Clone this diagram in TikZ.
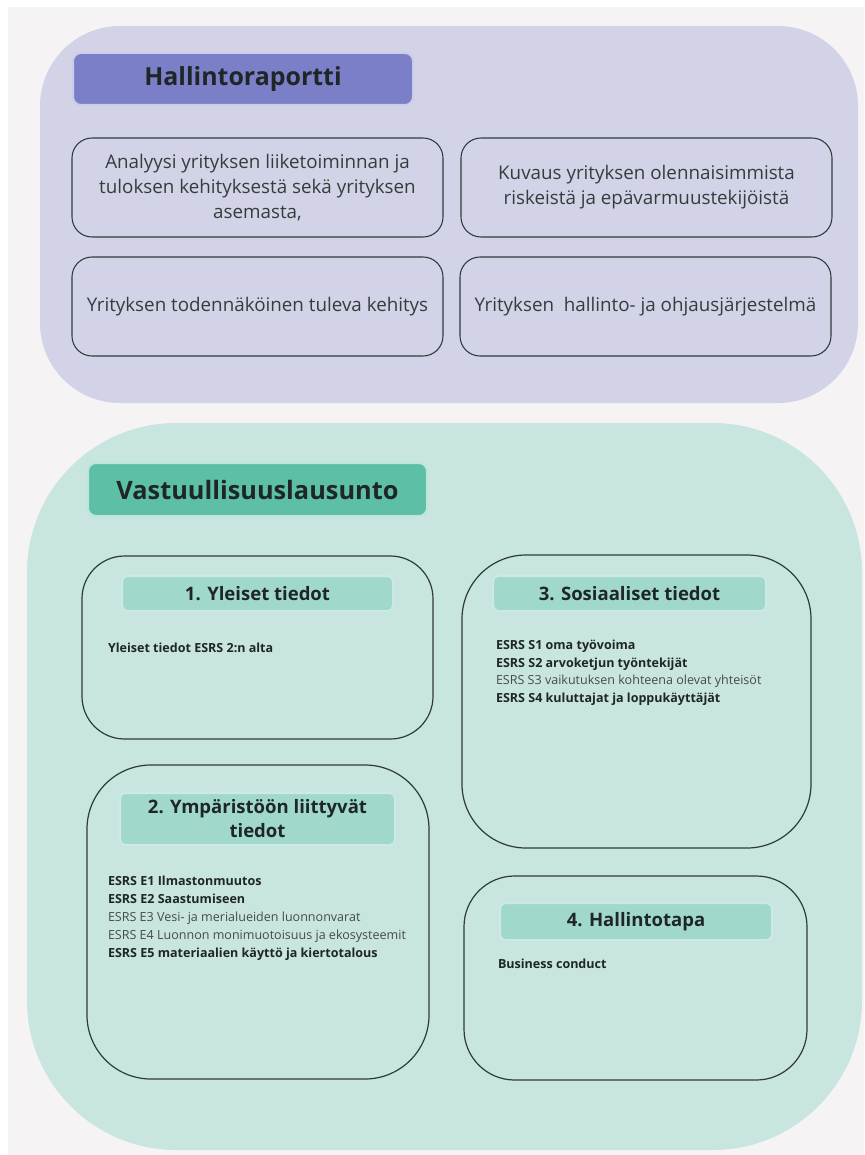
\documentclass[tikz,border=0pt]{standalone}
\usepackage{fontspec}
\setmainfont{Open Sans}
\definecolor{pagebg}{HTML}{F5F3F4}
\definecolor{purpleouter}{HTML}{D3D3E8}
\definecolor{purplehead}{HTML}{7B7FC8}
\definecolor{greenouter}{HTML}{C8E5E0}
\definecolor{greenhead}{HTML}{5CBFA6}
\definecolor{greensub}{HTML}{A1D8CC}
\definecolor{ink}{HTML}{1E2626}
\definecolor{inkgray}{HTML}{454B4B}
\definecolor{boxline}{HTML}{2F3A39}
\begin{document}
\begin{tikzpicture}[x=0.75pt,y=-0.75pt,
  every node/.style={inner sep=0pt, outer sep=0pt},
  outerbox/.style={anchor=north west, draw=none},
  headbox/.style={anchor=north west, rounded corners=6pt, draw=white!60!#1, line width=1.5pt, fill=#1, text=ink, font=\bfseries\fontsize{18.7}{22}\selectfont},
  upbox/.style={anchor=north west, rounded corners=15pt, draw=boxline, line width=0.8pt, align=center, text=ink!90,
     minimum width=278.25pt, minimum height=74.25pt, font=\fontsize{14.1}{18.75}\selectfont},
  lowbox/.style={anchor=north west, draw=boxline, line width=0.9pt},
  subhead/.style={anchor=north west, rounded corners=4pt, fill=greensub, draw=white!45!greensub, line width=1.5pt,
     text=ink, align=center, font=\bfseries\fontsize{13.9}{18}\selectfont},
  bodyb/.style={anchor=base west, text=ink, font=\bfseries\fontsize{9.4}{13.5}\selectfont},
  bodyr/.style={anchor=base west, text=inkgray, font=\fontsize{9.4}{13.5}\selectfont}
]
\useasboundingbox (0,0) rectangle (864,1155);
\fill[white] (0,0) rectangle (864,1155);
\fill[pagebg] (8,7) rectangle (864,1155);

% ---------- Hallintoraportti ----------
\node[outerbox, fill=purpleouter, rounded corners=60pt, minimum width=613.5pt, minimum height=282.75pt] (hr) at (40,26) {};
\node[headbox=purplehead, minimum width=255pt, minimum height=39pt] (hrhead) at (73,53) {Hallintoraportti};
\node[upbox] (hr1) at (72,138) {Analyysi yrityksen liiketoiminnan ja\\tuloksen kehityksestä sekä yrityksen\\asemasta,};
\node[upbox] (hr2) at (461,138) {Kuvaus yrityksen olennaisimmista\\riskeistä ja epävarmuustekijöistä};
\node[upbox] (hr3) at (72,257) {Yrityksen todennäköinen tuleva kehitys};
\node[upbox] (hr4) at (460,257) {Yrityksen\ \ hallinto- ja ohjausjärjestelmä};

% ---------- Vastuullisuuslausunto ----------
\node[outerbox, fill=greenouter, rounded corners=112pt, minimum width=626.25pt, minimum height=545.25pt] (vl) at (27,423) {};
\node[headbox=greenhead, minimum width=254.25pt, minimum height=39.75pt, font=\bfseries\fontsize{19}{22}\selectfont] (vlhead) at (88,463) {Vastuullisuuslausunto};

% 1. Yleiset tiedot
\node[lowbox, rounded corners=32pt, minimum width=263.25pt, minimum height=137.25pt] (b1) at (82,556) {};
\node[subhead, minimum width=203.25pt, minimum height=26.25pt] (b1h) at (122,576) {1. Yleiset tiedot};
\node[bodyb] (b1t1) at (108,652) {Yleiset tiedot ESRS 2:n alta};

% 3. Sosiaaliset tiedot
\node[lowbox, rounded corners=48pt, minimum width=261.75pt, minimum height=219.75pt] (b3) at (462,555) {};
\node[subhead, minimum width=204.75pt, minimum height=26.25pt] (b3h) at (493,576) {3. Sosiaaliset tiedot};
\node[bodyb] (b3t1) at (496,649) {ESRS S1 oma työvoima};
\node[bodyb] (b3t2) at (496,667) {ESRS S2 arvoketjun työntekijät};
\node[bodyr] (b3t3) at (496,684.5) {ESRS S3 vaikutuksen kohteena olevat yhteisöt};
\node[bodyb] (b3t4) at (496,702) {ESRS S4 kuluttajat ja loppukäyttäjät};

% 2. Ympäristöön liittyvät tiedot
\node[lowbox, rounded corners=48pt, minimum width=256.5pt, minimum height=235.5pt] (b2) at (87,765) {};
\node[subhead, minimum width=206.25pt, minimum height=39pt] (b2h) at (120,793) {2. Ympäristöön liittyvät\\tiedot};
\node[bodyb] (b2t1) at (108,885) {ESRS E1 Ilmastonmuutos};
\node[bodyb] (b2t2) at (108,903) {ESRS E2 Saastumiseen};
\node[bodyr] (b2t3) at (108,921) {ESRS E3 Vesi- ja merialueiden luonnonvarat};
\node[bodyr] (b2t4) at (108,939) {ESRS E4 Luonnon monimuotoisuus ja ekosysteemit};
\node[bodyb] (b2t5) at (108,957) {ESRS E5 materiaalien käyttö ja kiertotalous};

% 4. Hallintotapa
\node[lowbox, rounded corners=38pt, minimum width=257.25pt, minimum height=153pt] (b4) at (464,876) {};
\node[subhead, minimum width=204pt, minimum height=27.75pt] (b4h) at (500,903) {4. Hallintotapa};
\node[bodyb] (b4t1) at (498,968) {Business conduct};
\end{tikzpicture}
\end{document}
